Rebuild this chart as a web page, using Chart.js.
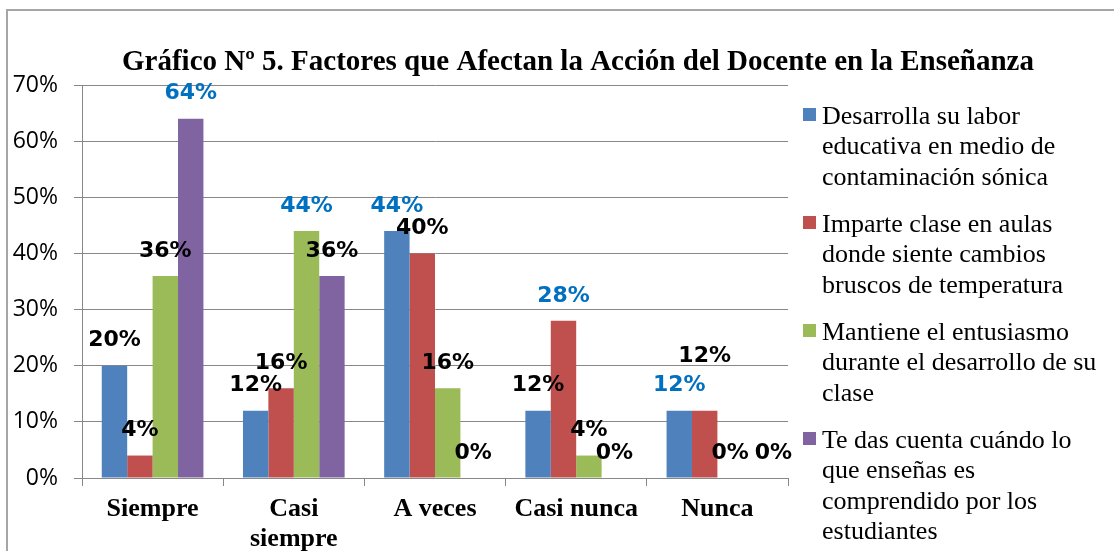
<!DOCTYPE html>
<html>
<head>
<meta charset="utf-8">
<script src="https://cdn.jsdelivr.net/npm/chart.js@4.4.1/dist/chart.umd.min.js"></script>
<style>
  html, body { margin: 0; padding: 0; background: #fff; overflow: hidden; width: 1114px; height: 551px; }
  #frame { position: absolute; left: 6px; top: 9px; border-left: 2px solid #a6a6a6; border-top: 2px solid #a6a6a6; }
  canvas { display: block; }
</style>
</head>
<body>
<div id="frame"><canvas id="chart" width="1140" height="560"></canvas></div>
<script>
// categories and series (percent)
const chartTitle = "Gráfico Nº 5. Factores que Afectan la Acción del Docente en la Enseñanza";
const categories = [["Siempre"], ["Casi", "siempre"], ["A veces"], ["Casi nunca"], ["Nunca"]];
const seriesNames = [
  ["Desarrolla su labor", "educativa en medio de", "contaminación sónica"],
  ["Imparte clase en aulas", "donde siente cambios", "bruscos de temperatura"],
  ["Mantiene el entusiasmo", "durante el desarrollo de su", "clase"],
  ["Te das cuenta cuándo lo", "que enseñas es", "comprendido por los", "estudiantes"]
];
const desarrolla = [20, 12, 44, 12, 12];
const imparte = [4, 16, 40, 28, 12];
const mantiene = [36, 44, 16, 4, 0];
const teDasCuenta = [64, 36, 0, 0, 0];
const yTicks = [0, 10, 20, 30, 40, 50, 60, 70];

const colors = ["#4F81BD", "#C0504D", "#9BBB59", "#8064A2"];
const values = [desarrolla, imparte, mantiene, teDasCuenta];

// title drawn centred over the whole canvas (legend space included)
const centreTitle = {
  id: "centreTitle",
  afterDraw(chart) {
    const ctx = chart.ctx;
    ctx.save();
    ctx.font = 'bold 29px "Liberation Serif"';
    ctx.fillStyle = "#000";
    ctx.textAlign = "center";
    ctx.textBaseline = "middle";
    ctx.fillText(chartTitle, chart.width / 2, 52);
    ctx.restore();
  }
};

// value labels above bars, highest of each group in blue
const barLabels = {
  id: "barLabels",
  afterDatasetsDraw(chart) {
    const ctx = chart.ctx;
    const h = 17;
    ctx.save();
    ctx.font = 'bold 22px "DejaVu Sans"';
    ctx.textAlign = "center";
    ctx.textBaseline = "middle";
    chart.data.labels.forEach((_, j) => {
      const col = chart.data.datasets.map(d => d.data[j]);
      const best = col.indexOf(Math.max(...col));
      const placed = [];
      chart.data.datasets.forEach((ds, i) => {
        const bar = chart.getDatasetMeta(i).data[j];
        const txt = ds.data[j] + "%";
        const w = ctx.measureText(txt).width;
        let x = bar.x, y = bar.y - 25;
        // nudge labels that would sit on top of the previous one
        placed.forEach(p => {
          if (Math.abs(p.x - x) < (p.w + w) / 2 && Math.abs(p.y - y) < h) {
            if (ds.data[j] > 0) y = p.y - h - 12;
            else x = p.x + (p.w + w) / 2 + 6;
          }
        });
        placed.push({ x, y, w });
        ctx.fillStyle = best === i ? "#0070C0" : "#000";
        ctx.fillText(txt, x, y);
      });
    });
    ctx.restore();
  }
};

// legend on the right with wrapped names
const sideLegend = {
  id: "sideLegend",
  afterDraw(chart) {
    const ctx = chart.ctx;
    const area = chart.chartArea;
    const lineH = 30.5;
    let y = area.top + 32;
    ctx.save();
    ctx.font = '26px "Liberation Serif"';
    ctx.textBaseline = "middle";
    ctx.textAlign = "left";
    seriesNames.forEach((lines, i) => {
      ctx.fillStyle = colors[i];
      ctx.fillRect(area.right + 15, y - 9, 13, 13);
      ctx.fillStyle = "#000";
      lines.forEach((t, k) => ctx.fillText(t, area.right + 34, y + k * lineH));
      y += 3 * lineH + 16.5;
    });
    ctx.restore();
  }
};

new Chart(document.getElementById("chart"), {
  type: "bar",
  data: {
    labels: categories,
    datasets: values.map((v, i) => ({
      label: seriesNames[i].join(" "),
      data: v,
      backgroundColor: colors[i],
      categoryPercentage: 0.72,
      barPercentage: 1.0
    }))
  },
  options: {
    responsive: false,
    animation: false,
    layout: { padding: { right: 360, left: 0, top: 74, bottom: 0 } },
    plugins: {
      legend: { display: false },
      tooltip: { enabled: false },
      title: { display: false }
    },
    scales: {
      x: {
        grid: { display: true, drawOnChartArea: false, drawTicks: true, tickLength: 8, color: "#888", offset: true },
        border: { color: "#888" },
        ticks: {
          color: "#000",
          font: { family: "Liberation Serif", size: 26, weight: "bold", lineHeight: 1.15 },
          padding: 8,
          maxRotation: 0,
          autoSkip: false
        },
        afterFit(scale) { scale.height = 93; }
      },
      y: {
        min: 0,
        max: 70,
        afterBuildTicks(scale) { scale.ticks = yTicks.map(v => ({ value: v })); },
        grid: { color: "#888", tickLength: 8 },
        border: { color: "#888" },
        ticks: {
          color: "#000",
          font: { family: "Open Sans", size: 23 },
          padding: 16,
          callback: v => v + "%"
        },
        afterFit(scale) { scale.width = 74; }
      }
    }
  },
  plugins: [centreTitle, barLabels, sideLegend]
});
</script>
</body>
</html>
